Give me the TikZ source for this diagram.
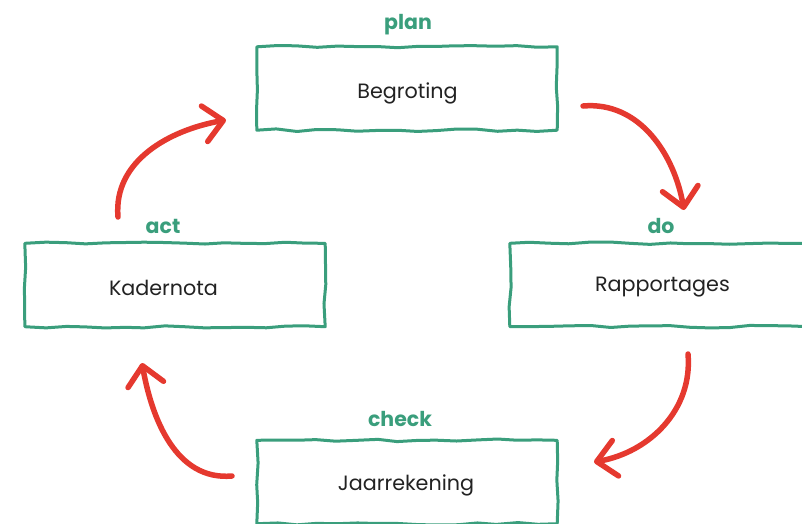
\documentclass[tikz,border=0pt]{standalone}
\usepackage{fontspec}
\setmainfont{Poppins}
\usetikzlibrary{arrows.meta,decorations.pathmorphing}
\definecolor{boxgreen}{HTML}{3A9E7C}
\definecolor{arrred}{HTML}{E5392F}
\definecolor{txt}{HTML}{222222}
\begin{document}
\begin{tikzpicture}[x=1pt,y=-1pt,
  stagebox/.style={minimum width=300pt, minimum height=83pt, inner sep=0pt},
  lbl/.style={anchor=base, inner sep=0pt, font=\fontsize{20.7}{24}\selectfont, text=txt},
  wobble/.style={draw=boxgreen, line width=3pt, line join=round,
    decorate, decoration={random steps, segment length=20pt, amplitude=1.3pt}},
  phase/.style={anchor=base, font=\bfseries\fontsize{20.5}{23}\selectfont, text=boxgreen, inner sep=0pt},
  cyc/.style={draw=arrred, line width=5.5pt, line cap=round,
    -{Straight Barb[length=19pt,width=36pt,line width=5.5pt,round]}}]
\pgfmathsetseed{7}
\useasboundingbox (0,0) rectangle (802,523);
\node[stagebox] (B) at (407,88.5) {};
\node[stagebox] (R) at (660,285) {};
\node[stagebox] (K) at (175,285) {};
\node[stagebox] (J) at (407,482) {};
\begin{scope}
\clip (0,0) rectangle (802,523);
\foreach \n in {B,R,K,J}{
  \draw[wobble] (\n.south west) rectangle (\n.north east);
}
\end{scope}
\node[lbl] (Bt) at (407.5,98.3) {Begroting};
\node[lbl] (Rt) at (662.5,291.7) {Rapportages};
\node[lbl] (Kt) at (163.5,295) {Kadernota};
\node[lbl] (Jt) at (406,490.7) {Jaarrekening};
\node[phase] (pl) at (408,29) {plan};
\node[phase] (pd) at (661,233) {do};
\node[phase] (pa) at (163,233) {act};
\node[phase] (pc) at (400,426) {check};
\coordinate (a1s) at (583,106);
\coordinate (a1e) at (684,210);
\coordinate (a2s) at (688,354);
\coordinate (a2e) at (594,462);
\coordinate (a3s) at (232,476);
\coordinate (a3e) at (142,363);
\coordinate (a4s) at (118,217);
\coordinate (a4e) at (226,120);
\draw[cyc] (a1s) to[out=5,in=100] (a1e);
\draw[cyc] (a2s) to[out=-85,in=10] (a2e);
\draw[cyc] (a3s) to[out=185,in=-80] (a3e);
\draw[cyc] (a4s) to[out=95,in=190] (a4e);
\end{tikzpicture}
\end{document}
